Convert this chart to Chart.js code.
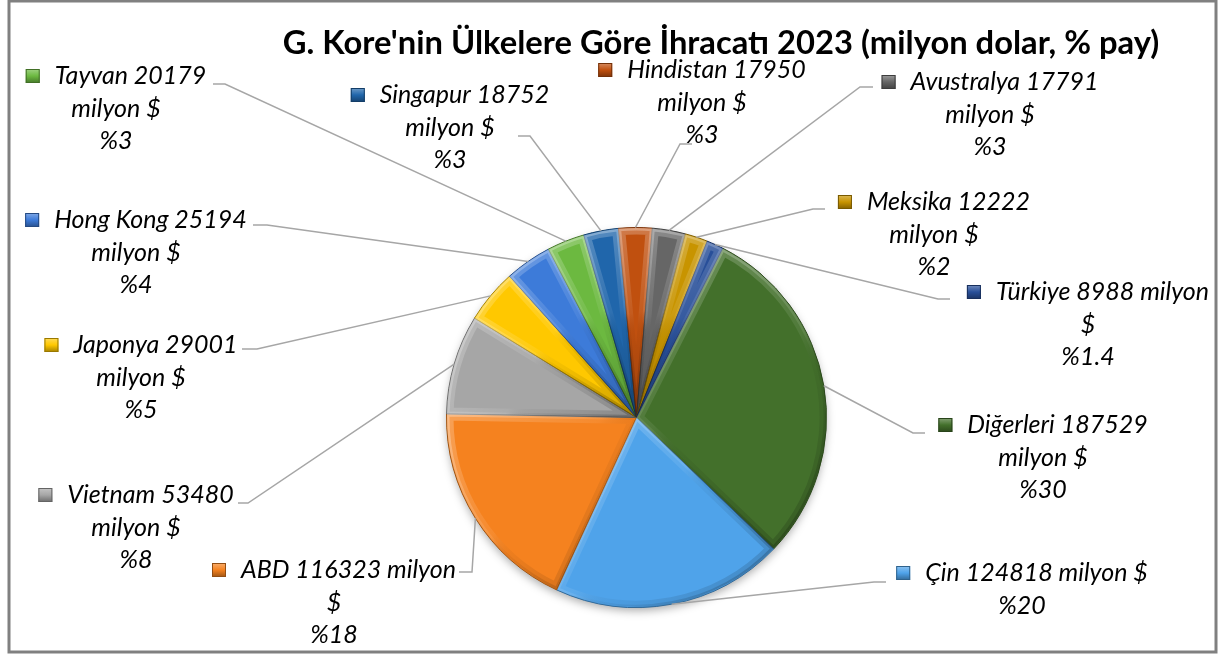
<!DOCTYPE html>
<html>
<head>
<meta charset="utf-8">
<title>G. Kore İhracatı 2023</title>
<script src="https://cdn.jsdelivr.net/npm/chart.js@4.4.1/dist/chart.umd.min.js"></script>
<style>
    html, body { margin: 0; padding: 0; background: #fff; }
    #wrap { position: absolute; left: 0; top: 0; width: 1219px; height: 657px; }
</style>
</head>
<body>
<div id="wrap"><canvas id="exportChart" width="1219" height="657"></canvas></div>
<script>
// Data
const countries = ['Diğerleri', 'Çin', 'ABD', 'Vietnam', 'Japonya', 'Hong Kong', 'Tayvan', 'Singapur', 'Hindistan', 'Avustralya', 'Meksika', 'Türkiye'];
const exportValues = [187529, 124818, 116323, 53480, 29001, 25194, 20179, 18752, 17950, 17791, 12222, 8988];
const sharePercents = ['30', '20', '18', '8', '5', '4', '3', '3', '3', '3', '2', '1.4'];
const chartTitle = "G. Kore'nin Ülkelere Göre İhracatı 2023 (milyon dolar, % pay)";

// Styles
const sliceColors = ['#43702b', '#4fa3ea', '#f5821f', '#a6a6a6', '#ffc800', '#3d7bd9', '#6cb940', '#2066ab', '#c0500f', '#666666', '#c89400', '#284f99'];
// how many words go on the first label line (Excel wrapping)
const firstLineWords = [2, 4, 3, 2, 2, 3, 2, 2, 2, 2, 2, 3];
// label block: centre x, first line centre y, leader anchor (ax, ay) and elbow x
const labelLayout = [
    { cx: 1043, cy: 425, ax: 925, ay: 433, ex: 913 },
    { cx: 1022, cy: 573, ax: 886, ay: 582, ex: 874 },
    { cx: 334, cy: 570, ax: 459, ay: 572, ex: 472 },
    { cx: 136, cy: 495, ax: 238, ay: 503, ex: 248 },
    { cx: 141, cy: 345, ax: 242, ay: 349, ex: 257 },
    { cx: 136, cy: 220, ax: 253, ay: 225, ex: 267 },
    { cx: 116, cy: 76, ax: 213, ay: 84, ex: 225 },
    { cx: 450, cy: 95, ax: 518, ay: 136, ex: 530 },
    { cx: 702, cy: 70, ax: 692, ay: 144, ex: 680 },
    { cx: 990, cy: 82, ax: 873, ay: 87, ex: 860 },
    { cx: 934, cy: 202, ax: 825, ay: 209, ex: 813 },
    { cx: 1088, cy: 292, ax: 950, ay: 299, ex: 938 },
];

const LABEL_FONT = 'italic 25px Lato';
const LINE_GAP = 32.5;
const KEY_SIZE = 14;
const KEY_GAP = 15;

const shade = (hex, amt) => {
    const n = parseInt(hex.slice(1), 16);
    const mix = (c) => Math.round(amt >= 0 ? c + (255 - c) * amt : c * (1 + amt));
    const r = mix((n >> 16) & 255);
    const g = mix((n >> 8) & 255);
    const b = mix(n & 255);
    return `rgb(${r},${g},${b})`;
};

const labelLines = (i) => {
    const words = [...countries[i].split(' '), String(exportValues[i]), 'milyon', '$'];
    const lines = [words.slice(0, firstLineWords[i]).join(' ')];
    const rest = words.slice(firstLineWords[i]).join(' ');
    if (rest) lines.push(rest);
    lines.push('%' + sharePercents[i]);
    return lines;
};

const framePlugin = {
    id: 'frame',
    beforeDraw(chart) {
        const { ctx, width, height } = chart;
        ctx.save();
        ctx.fillStyle = '#fff';
        ctx.fillRect(0, 0, width, height);
        ctx.strokeStyle = '#808080';
        ctx.lineWidth = 3;
        ctx.strokeRect(9, 1, 1207, 651);
        ctx.restore();
    },
};

const shadowPlugin = {
    id: 'pieShadow',
    beforeDatasetsDraw(chart) {
        const arc = chart.getDatasetMeta(0).data[0];
        if (!arc) return;
        const { x, y, outerRadius } = arc.getProps(['x', 'y', 'outerRadius'], true);
        const { ctx } = chart;
        ctx.save();
        ctx.shadowColor = 'rgba(0,0,0,0.35)';
        ctx.shadowBlur = 10;
        ctx.shadowOffsetY = 4;
        ctx.fillStyle = '#888';
        ctx.beginPath();
        ctx.arc(x, y, outerRadius - 1, 0, Math.PI * 2);
        ctx.fill();
        ctx.restore();
    },
};

const bevelPlugin = {
    id: 'bevel',
    afterDatasetsDraw(chart) {
        const { ctx } = chart;
        chart.getDatasetMeta(0).data.forEach((arc) => {
            const { x, y, startAngle, endAngle, outerRadius: r } = arc.getProps(['x', 'y', 'startAngle', 'endAngle', 'outerRadius'], true);
            const pts = [[x, y], [x + r * Math.cos(startAngle), y + r * Math.sin(startAngle)], [x + r * Math.cos(endAngle), y + r * Math.sin(endAngle)]];
            for (let k = Math.ceil(startAngle / (Math.PI / 2)); k * Math.PI / 2 < endAngle; k++) {
                pts.push([x + r * Math.cos(k * Math.PI / 2), y + r * Math.sin(k * Math.PI / 2)]);
            }
            const xs = pts.map((p) => p[0]);
            const ys = pts.map((p) => p[1]);
            ctx.save();
            ctx.beginPath();
            ctx.moveTo(x, y);
            ctx.arc(x, y, r - 0.5, startAngle, endAngle);
            ctx.closePath();
            ctx.clip();
            const grad = ctx.createLinearGradient(Math.min(...xs), Math.min(...ys), Math.max(...xs), Math.max(...ys));
            grad.addColorStop(0, 'rgba(255,255,255,0.55)');
            grad.addColorStop(0.45, 'rgba(255,255,255,0.15)');
            grad.addColorStop(0.55, 'rgba(0,0,0,0.08)');
            grad.addColorStop(1, 'rgba(0,0,0,0.4)');
            ctx.strokeStyle = grad;
            ctx.lineJoin = 'round';
            ctx.globalAlpha = 0.45;
            ctx.lineWidth = 13;
            ctx.stroke();
            ctx.globalAlpha = 0.55;
            ctx.lineWidth = 5;
            ctx.stroke();
            ctx.restore();
        });
    },
};

const labelPlugin = {
    id: 'excelLabels',
    afterDraw(chart) {
        const { ctx } = chart;
        const arcs = chart.getDatasetMeta(0).data;
        ctx.save();

        // title
        let size = 30;
        ctx.font = `bold ${size}px Lato`;
        size = size * 877 / ctx.measureText(chartTitle).width;
        ctx.font = `bold ${size}px Lato`;
        ctx.fillStyle = '#000';
        ctx.textAlign = 'center';
        ctx.textBaseline = 'middle';
        ctx.fillText(chartTitle, 721, 43);

        // leader lines
        ctx.strokeStyle = '#a6a6a6';
        ctx.lineWidth = 1.5;
        arcs.forEach((arc, i) => {
            const { x, y, startAngle, endAngle, outerRadius } = arc.getProps(['x', 'y', 'startAngle', 'endAngle', 'outerRadius'], true);
            const mid = (startAngle + endAngle) / 2;
            const l = labelLayout[i];
            ctx.beginPath();
            ctx.moveTo(l.ax, l.ay);
            ctx.lineTo(l.ex, l.ay);
            ctx.lineTo(x + Math.cos(mid) * outerRadius, y + Math.sin(mid) * outerRadius);
            ctx.stroke();
        });

        // labels with legend keys
        ctx.font = LABEL_FONT;
        arcs.forEach((arc, i) => {
            const l = labelLayout[i];
            const lines = labelLines(i);
            const w0 = ctx.measureText(lines[0]).width;
            const left = l.cx - (KEY_SIZE + KEY_GAP + w0) / 2;
            const kTop = l.cy - KEY_SIZE / 2;
            const kg = ctx.createLinearGradient(0, kTop, 0, kTop + KEY_SIZE);
            kg.addColorStop(0, shade(sliceColors[i], 0.35));
            kg.addColorStop(0.5, sliceColors[i]);
            kg.addColorStop(1, shade(sliceColors[i], -0.35));
            ctx.fillStyle = kg;
            ctx.fillRect(left, kTop, KEY_SIZE, KEY_SIZE);
            ctx.strokeStyle = shade(sliceColors[i], -0.4);
            ctx.lineWidth = 1;
            ctx.strokeRect(left + 0.5, kTop + 0.5, KEY_SIZE - 1, KEY_SIZE - 1);

            ctx.fillStyle = '#000';
            ctx.textAlign = 'left';
            ctx.fillText(lines[0], left + KEY_SIZE + KEY_GAP, l.cy);
            ctx.textAlign = 'center';
            for (let j = 1; j < lines.length; j++) {
                ctx.fillText(lines[j], l.cx, l.cy + LINE_GAP * j);
            }
        });
        ctx.restore();
    },
};

const ctx = document.getElementById('exportChart').getContext('2d');

// eslint-disable-next-line no-new
new Chart(ctx, {
    type: 'pie',
    data: {
        labels: countries,
        datasets: [{
            data: exportValues,
            backgroundColor: sliceColors,
            borderColor: sliceColors.map((c) => shade(c, -0.35)),
            borderWidth: 1,
        }],
    },
    options: {
        responsive: false,
        animation: false,
        devicePixelRatio: 1,
        rotation: 27,
        layout: {
            padding: { left: 446, right: 392, top: 227, bottom: 49 },
        },
        plugins: {
            legend: { display: false },
            tooltip: { enabled: false },
            title: { display: false },
        },
    },
    plugins: [framePlugin, shadowPlugin, bevelPlugin, labelPlugin],
});
</script>
</body>
</html>
